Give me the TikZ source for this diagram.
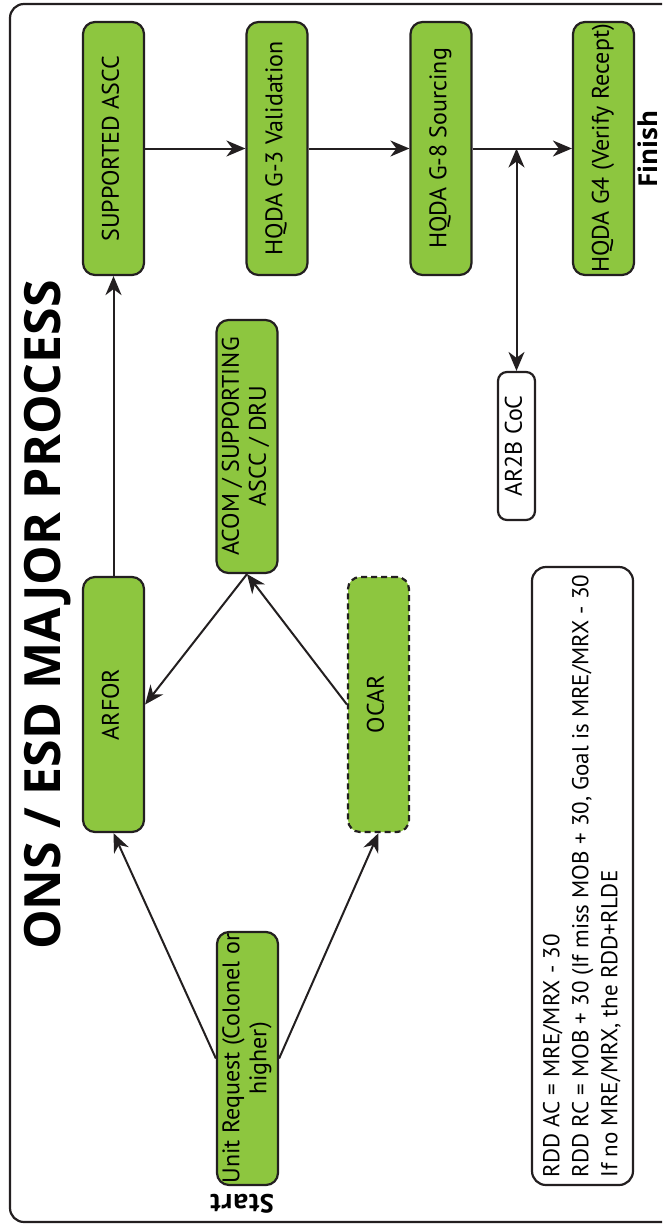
\documentclass[tikz,border=0pt]{standalone}
\usepackage{fontspec}
\setmainfont{PT Sans}
\newfontfamily\headfont{Open Sans}
\usetikzlibrary{arrows.meta}
\definecolor{ink}{HTML}{231F20}
\definecolor{leaf}{HTML}{8DC63F}
\newcommand{\uplabel}[1]{\rotatebox{90}{\begin{tabular}{@{}c@{}}#1\end{tabular}}}
\newcommand{\upnote}[1]{\rotatebox{90}{\begin{tabular}{@{}l@{}}#1\end{tabular}}}

\begin{document}
\begin{tikzpicture}[x=1pt,y=-1pt,>={Stealth[length=19pt,width=16pt,inset=6pt]},
  stage/.style={draw=ink,fill=leaf,line width=2.2pt,rounded corners=12pt,
    inner sep=0pt,minimum width=61pt,minimum height=253pt,
    font=\fontsize{24}{27}\selectfont},
  flow/.style={->,ink,line width=2pt}]
  \useasboundingbox (0,0) rectangle (662,1226);
  \clip (0,0) rectangle (662,1226);
  \fill[white] (0,0) rectangle (662,1226);
  \draw[ink,line width=2.2pt,rounded corners=14pt] (10,4) rectangle (720,1222);

  % Title and end labels
  \node[rotate=90,font=\fontsize{50}{50}\selectfont\headfont\bfseries] (title) at (48,615) {ONS / ESD MAJOR PROCESS};
  \node[rotate=90,font=\fontsize{26}{26}\selectfont\headfont\bfseries] (finish) at (648,149) {Finish};
  \node[rotate=180,font=\fontsize{26}{26}\selectfont\headfont\bfseries] (start) at (242,1204) {Start};

  % Top row
  \node[stage] (supp) at (113.5,148.5) {\uplabel{SUPPORTED ASCC}};
  \node[stage] (g3) at (277,148.5) {\uplabel{HQDA G-3 Validation}};
  \node[stage] (g8) at (441,148.5) {\uplabel{HQDA G-8 Sourcing}};
  \node[stage] (g4) at (603.5,148.5) {\uplabel{HQDA G4 (Verify Recept)}};

  % Middle and lower boxes
  \node[stage] (acom) at (247,446.5) {\uplabel{ACOM / SUPPORTING\\ASCC / DRU}};
  \node[stage,minimum height=255pt] (arfor) at (113.5,704.5) {\uplabel{ARFOR}};
  \node[stage,minimum height=255pt,dash pattern=on 6pt off 4pt] (ocar) at (378.5,704.5) {\uplabel{OCAR}};
  \node[stage] (unit) at (247.5,1058.5) {\uplabel{Unit Request (Colonel or\\higher)}};

  % White boxes
  \node[stage,fill=white,minimum width=37pt,minimum height=148pt,rounded corners=9pt] (ar2b) at (516.5,446) {\uplabel{AR2B CoC}};
  \node[stage,fill=white,minimum width=101pt,minimum height=618pt,rounded corners=14pt,
    font=\fontsize{23}{29}\selectfont] (note) at (582.5,876)
    {\upnote{RDD AC = MRE/MRX - 30\\
      RDD RC = MOB + 30 (If miss MOB + 30, Goal is MRE/MRX - 30\\
      If no MRE/MRX, the RDD+RLDE}};

  % Connectors
  \draw[flow] (unit.west) -- (arfor.south);
  \draw[flow] (unit.east) -- (ocar.south);
  \draw[flow] (arfor.north) -- (supp.south);
  \draw[flow] (acom.south) -- (arfor.east);
  \draw[flow] (ocar.west) -- (acom.south);
  \draw[flow] (supp.east) -- (g3.west);
  \draw[flow] (g3.east) -- (g8.west);
  \draw[flow] (g8.east) -- (g4.west);
  \coordinate (tap) at (ar2b.north |- g8.east);
  \draw[flow,<->] (ar2b.north) -- (tap);
\end{tikzpicture}
\end{document}
